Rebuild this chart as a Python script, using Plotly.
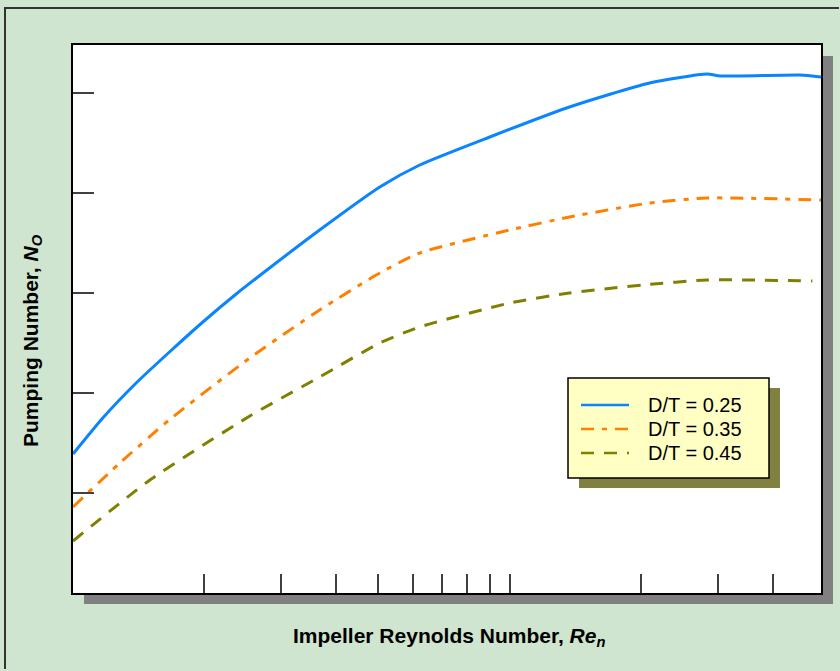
import plotly.graph_objects as go

# ---------------- data ----------------
re_025 = [1.0, 1.17, 1.395, 1.663, 1.983, 2.364, 2.818, 3.67, 5.04, 6.22, 9.0, 13.7, 20.9, 28.3, 30.3, 46.2, 51.6]
no_025 = [1.39, 1.75, 2.10, 2.41, 2.71, 2.99, 3.25, 3.63, 4.06, 4.28, 4.56, 4.86, 5.10, 5.19, 5.17, 5.18, 5.16]

re_035 = [1.0, 1.28, 1.66, 2.54, 3.67, 5.04, 6.22, 10.0, 13.7, 20.9, 28.3, 51.6]
no_035 = [0.86, 1.30, 1.73, 2.35, 2.83, 3.20, 3.40, 3.63, 3.76, 3.90, 3.95, 3.93]

re_045 = [1.0, 1.50, 2.54, 3.67, 5.04, 6.22, 10.0, 13.7, 20.2, 28.3, 49.3]
no_045 = [0.52, 1.13, 1.77, 2.16, 2.50, 2.66, 2.90, 3.00, 3.08, 3.13, 3.12]

series_names = ["D/T = 0.25", "D/T = 0.35", "D/T = 0.45"]
series_colors = ["#0a84ff", "#ff8000", "#808000"]
series_dashes = ["solid", "13px,8px,5px,8px", "13px,10px"]
x_tickvals = [2, 3, 4, 5, 6, 7, 8, 9, 10, 20, 30, 40]
y_tickvals = [1, 2, 3, 4, 5]

# ---------------- layout helpers ----------------
W, H = 840, 671
L, R, T, B = 73, 821, 45, 593
pw, ph = R - L, B - T


def px(xp):
    return (xp - L) / pw


def py(yp):
    return (B - yp) / ph


FONT = "Liberation Sans, Arial, Helvetica, sans-serif"

fig = go.Figure()
for xs, ys, name, col, dash in zip([re_025, re_035, re_045], [no_025, no_035, no_045],
                                   series_names, series_colors, series_dashes):
    fig.add_trace(go.Scatter(x=xs, y=ys, mode="lines", name=name,
                             line=dict(color=col, width=3, dash=dash, shape="spline", smoothing=0.6),
                             showlegend=False))

shapes = [
    # outer frame border (top and left edges visible), drawn as thin filled strips
    dict(type="rect", xref="paper", yref="paper", x0=px(4), x1=px(839), y0=py(9), y1=py(7),
         line=dict(width=0), fillcolor="#333333", layer="below"),
    dict(type="rect", xref="paper", yref="paper", x0=px(4), x1=px(6), y0=py(669), y1=py(7),
         line=dict(width=0), fillcolor="#333333", layer="below"),
    # plot drop shadow
    dict(type="rect", xref="paper", yref="paper", x0=px(84), x1=px(833), y0=py(56), y1=py(604),
         line=dict(width=0), fillcolor="#808080", layer="below"),
    # plot area white
    dict(type="rect", xref="paper", yref="paper", x0=0, x1=1, y0=0, y1=1,
         line=dict(width=0), fillcolor="#ffffff", layer="below"),
    # legend shadow
    dict(type="rect", xref="paper", yref="paper", x0=px(579), x1=px(780), y0=py(388), y1=py(488),
         line=dict(width=0), fillcolor="#808040", layer="above"),
    # legend box
    dict(type="rect", xref="paper", yref="paper", x0=px(568), x1=px(769), y0=py(378), y1=py(478),
         line=dict(color="#000000", width=1.5), fillcolor="#ffffc4", layer="above"),
]

annotations = [
    dict(text="<b>Impeller Reynolds Number, <i>Re</i><sub><i>n</i></sub></b>",
         xref="paper", yref="paper", x=px(449), y=py(637), xanchor="center", yanchor="middle",
         showarrow=False, font=dict(family=FONT, size=21, color="#000000")),
    dict(text="<b>Pumping Number, <i>N</i><sub><i>O</i></sub></b>",
         xref="paper", yref="paper", x=px(32), y=py(341), xanchor="center", yanchor="middle",
         textangle=-90, showarrow=False, font=dict(family=FONT, size=21, color="#000000")),
]

# legend entries (sample line + label)
legend_rows = [405, 429, 453]
for row, name, col, dash in zip(legend_rows, series_names, series_colors, series_dashes):
    shapes.append(dict(type="line", xref="paper", yref="paper",
                       x0=px(581), x1=px(629), y0=py(row), y1=py(row),
                       line=dict(color=col, width=2.5, dash=dash), layer="above"))
    annotations.append(dict(text=name, xref="paper", yref="paper", x=px(646), y=py(row),
                            xanchor="left", yanchor="middle", showarrow=False,
                            font=dict(family=FONT, size=20, color="#000000")))

fig.update_layout(
    width=W, height=H,
    margin=dict(l=L, r=W - R, t=T, b=H - B),
    paper_bgcolor="#cfe5cf",
    plot_bgcolor="rgba(0,0,0,0)",
    font=dict(family=FONT, color="#000000"),
    shapes=shapes,
    annotations=annotations,
    showlegend=False,
    xaxis=dict(type="log", range=[0, 1.7126], showgrid=False, zeroline=False,
               tickmode="array", tickvals=x_tickvals, showticklabels=False,
               ticks="inside", ticklen=19, tickwidth=2, tickcolor="#404040",
               showline=True, mirror=True, linecolor="#000000", linewidth=2),
    yaxis=dict(range=[0, 5.48], showgrid=False, zeroline=False,
               tickmode="array", tickvals=y_tickvals, showticklabels=False,
               ticks="inside", ticklen=21, tickwidth=2, tickcolor="#404040",
               showline=True, mirror=True, linecolor="#000000", linewidth=2),
)

fig.write_html("out.html")
